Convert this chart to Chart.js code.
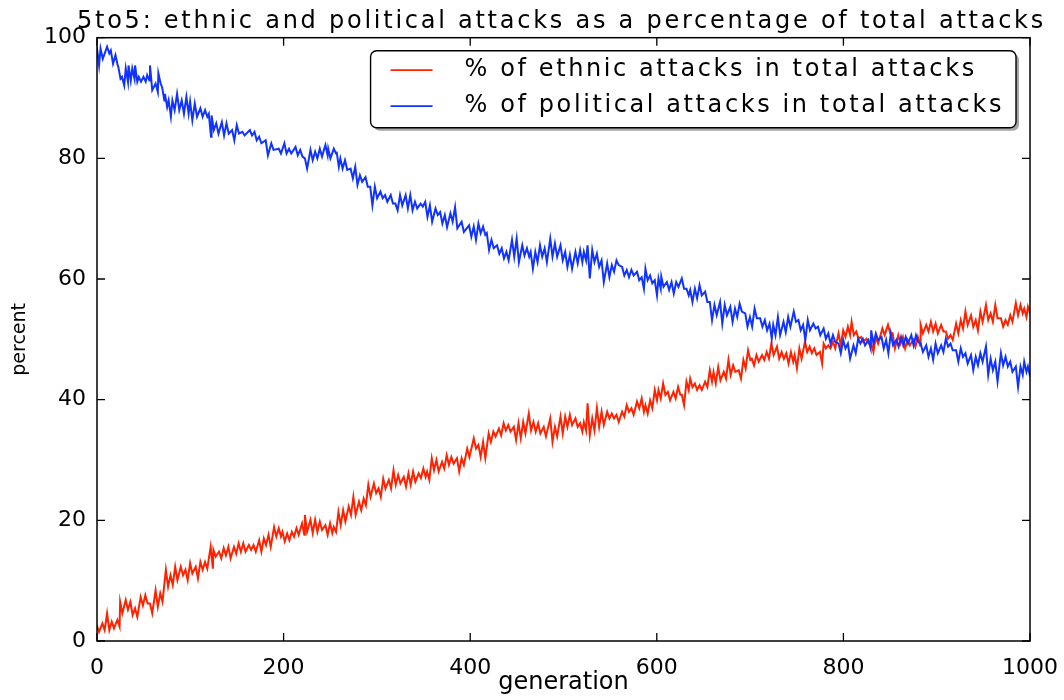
<!DOCTYPE html>
<html>
<head>
<meta charset="utf-8">
<script src="https://cdn.jsdelivr.net/npm/chart.js@4/dist/chart.umd.min.js"></script>
<style>
html,body{margin:0;padding:0;background:#ffffff;}
#wrap{width:1064px;height:700px;}
</style>
</head>
<body>
<div id="wrap"><canvas id="c" width="1064" height="700"></canvas></div>
<script>
// ---------- text ----------
const chartTitle = '5to5: ethnic and political attacks as a percentage of total attacks';
const xAxisTitle = 'generation';
const yAxisTitle = 'percent';
const ethnicLabel = '% of ethnic attacks in total attacks';
const politicalLabel = '% of political attacks in total attacks';
const xTickValues = [0, 200, 400, 600, 800, 1000];
const yTickValues = [0, 20, 40, 60, 80, 100];

// ---------- data: generation, upper and lower edge of the noisy trace ----------
const politicalGen = [
  1,5,12,16,21,24,28,32,35,39,
  42,46,51,55,58,64,67,71,74,78,
  82,87,92,97,101,106,112,117,121,124,
  129,135,140,146,151,157,165,170,175,182,
  188,196,202,207,214,219,224,230,235,240,
  246,249,255,258,262,267,273,278,283,289,
  294,299,305,310,316,321,326,332,337,342,
  348,353,358,364,369,374,380,385,392,400,
  405,410,415,419,424,430,435,440,446,451,
  457,462,466,471,476,481,487,492,498,503,
  508,514,519,523,527,532,537,542,548,553,
  558,564,569,574,580,585,589,594,599,603,
  606,612,617,622,628,633,637,642,647,653,
  658,663,669,674,680,685,690,696,701,706,
  712,717,722,726,731,737,742,748,753,758,
  763,769,774,780,785,790,796,801,806,812,
  817,822,828,831,836,842,847,852,858,863,
  868,874,879,884,890,895,900,906,911,916,
  922,927,932,938,943,948,954,959,964,970,
  975,980,986,991,995,999
];
const politicalHigh = [
  98.5,98.2,98.5,97.9,97.1,95.2,93.5,94.9,95.4,94.9,
  95.4,93.5,93.5,93.8,95.4,92.4,94.1,91.8,90.7,89.6,
  89.6,90.7,89.6,90.2,89.4,89.1,88.3,88.0,87.4,87.1,
  85.8,86.0,85.8,84.7,85.5,84.4,84.7,84.4,83.6,83.0,
  82.5,81.6,82.5,81.6,81.9,81.4,80.0,81.4,81.1,81.6,
  82.2,81.6,81.6,81.1,80.0,79.7,78.3,78.6,77.2,76.9,
  75.3,75.3,74.5,73.9,73.9,72.5,73.9,73.9,73.9,72.8,
  72.5,72.8,72.2,71.7,71.1,70.6,70.9,71.9,69.5,68.9,
  68.7,69.2,68.7,67.6,66.5,65.6,65.1,64.5,66.5,66.7,
  65.6,65.1,64.5,64.5,65.6,65.1,66.7,65.9,65.6,64.5,
  64.0,64.5,64.8,64.5,65.6,64.8,64.2,63.1,62.6,62.3,
  63.1,62.0,61.5,61.5,61.2,60.3,61.7,60.6,59.8,60.1,
  60.4,59.5,59.5,59.5,60.1,58.4,58.2,58.4,59.0,57.9,
  56.2,55.7,56.2,55.7,55.4,55.1,55.9,54.3,53.7,55.1,
  53.5,53.2,52.6,52.4,53.7,52.9,53.7,54.6,53.2,52.4,
  53.2,52.6,52.1,51.8,51.0,50.7,49.3,49.9,49.3,49.0,
  50.1,50.1,49.9,51.5,51.0,50.4,49.9,51.0,49.9,50.4,
  50.4,50.7,50.7,49.3,49.0,48.5,49.3,49.0,50.1,49.3,
  48.2,48.5,47.7,47.4,47.1,47.7,48.8,46.8,46.3,47.7,
  47.1,46.3,45.5,45.5,46.3,45.5
];
const politicalLow = [
  95.4,96.5,97.4,95.7,95.4,93.2,92.1,92.7,92.9,93.2,
  92.7,92.7,92.7,92.9,91.3,91.0,92.4,89.6,88.5,86.9,
  88.0,88.0,87.4,87.4,86.3,86.9,86.9,86.9,83.6,84.7,
  84.1,83.8,84.1,83.0,84.1,83.8,83.8,83.0,82.5,80.5,
  81.4,80.8,80.8,80.8,80.5,80.3,78.3,79.7,80.0,80.3,
  80.5,80.0,80.8,78.6,78.3,78.1,76.7,75.6,76.1,75.3,
  72.2,73.4,73.4,72.8,72.5,71.4,72.2,71.7,71.4,71.7,
  72.0,70.3,69.5,70.6,69.2,68.6,69.5,68.4,67.8,67.0,
  66.5,67.6,67.3,64.8,65.1,64.2,63.4,63.1,63.7,62.8,
  63.9,63.7,61.7,62.8,63.7,62.8,63.7,63.7,63.1,62.0,
  61.7,62.6,62.8,63.1,60.1,62.8,62.0,59.5,60.3,61.2,
  62.3,60.6,60.3,60.6,59.8,58.4,59.8,59.3,57.3,58.4,
  58.7,58.2,57.6,58.7,58.4,57.3,56.2,56.8,57.3,56.2,
  53.2,54.0,52.6,54.0,52.9,53.7,54.6,52.1,52.1,53.5,
  52.1,51.5,50.1,50.7,50.7,51.2,52.1,52.9,51.5,49.9,
  51.5,51.8,50.7,50.1,49.3,49.6,47.7,48.5,46.8,47.7,
  49.3,49.0,48.5,49.3,49.9,48.5,47.7,49.0,48.8,49.0,
  49.3,49.0,49.6,47.9,47.1,46.6,47.7,47.9,48.8,48.2,
  46.3,47.1,46.0,44.9,45.7,46.3,44.1,44.9,43.0,45.7,
  45.5,44.6,42.1,44.1,44.6,43.8
];

const ethnicGen = [
  1,7,12,17,23,26,32,37,42,48,
  53,58,64,69,75,80,85,91,96,101,
  107,112,117,123,126,132,137,142,148,153,
  158,164,169,175,180,185,191,196,200,205,
  210,215,221,224,230,235,240,246,251,255,
  260,265,271,276,282,287,292,298,303,308,
  314,319,324,330,335,340,346,351,355,360,
  365,371,376,381,387,392,398,405,410,415,
  421,426,432,437,442,448,453,458,464,469,
  474,480,487,492,498,503,508,514,519,523,
  527,532,537,542,548,553,558,564,569,574,
  580,585,589,594,599,603,608,613,619,624,
  628,633,637,642,647,653,658,662,667,673,
  678,683,689,694,699,703,708,714,719,724,
  730,735,740,745,749,754,760,765,770,776,
  780,785,790,796,801,806,810,815,820,826,
  831,836,843,849,854,860,865,870,876,881,
  884,890,895,900,906,911,916,922,927,932,
  938,943,948,954,959,964,970,975,980,986,
  991,995,999
];
const ethnicHigh = [
  2.6,2.9,4.6,3.2,3.5,6.5,6.8,6.5,5.4,7.3,
  7.6,6.2,8.4,7.9,11.8,10.9,12.3,12.3,11.8,12.9,
  12.3,13.1,13.1,15.6,15.1,14.8,15.4,15.6,15.6,16.2,
  16.2,15.9,15.9,16.7,17.0,17.6,18.9,18.7,18.1,17.8,
  18.1,18.7,19.5,20.9,20.1,20.1,19.8,19.2,19.5,18.9,
  21.4,21.7,22.3,23.9,23.1,23.6,25.9,26.1,25.3,26.9,
  26.7,28.3,27.5,27.2,27.8,28.1,27.8,28.6,28.1,30.3,
  30.0,29.7,30.8,30.5,30.3,30.3,31.9,33.6,32.5,33.0,
  34.4,34.7,35.2,36.1,35.8,35.5,36.1,36.3,37.7,36.3,
  36.1,35.5,36.9,35.5,37.2,37.2,37.5,36.9,36.1,36.3,
  39.4,36.9,38.6,38.0,38.0,37.7,37.5,38.0,39.1,38.6,
  39.7,40.2,39.1,39.9,41.6,41.6,42.7,41.3,41.3,42.1,
  40.8,43.0,43.5,42.7,42.4,43.0,44.9,44.6,45.4,44.6,
  46.6,45.7,44.9,46.6,48.2,46.8,47.4,47.4,47.9,49.3,
  48.8,47.9,47.7,47.9,47.4,48.5,49.6,48.8,48.5,47.9,
  49.3,49.0,49.6,51.0,51.5,52.1,52.9,51.3,50.4,50.1,
  49.3,50.4,51.8,52.4,51.0,50.7,50.4,49.9,49.9,50.4,
  52.4,52.4,52.9,52.6,52.4,51.3,50.7,52.6,53.2,54.6,
  54.0,53.2,54.6,55.7,54.3,55.7,53.5,53.2,54.0,56.0,
  55.7,55.1,55.4
];
const ethnicLow = [
  1.5,1.8,1.8,2.1,2.4,4.6,5.2,4.3,4.0,5.9,
  6.2,4.6,5.7,6.5,9.0,9.3,10.1,10.9,10.1,11.2,
  10.4,11.8,12.0,12.0,14.0,13.7,14.2,13.7,14.5,14.8,
  14.8,15.1,14.8,14.8,15.9,15.6,17.3,17.3,16.5,16.7,
  17.3,17.6,17.6,18.1,17.9,18.1,18.4,17.6,17.9,18.1,
  19.2,19.8,20.9,20.9,21.7,22.5,23.9,24.5,23.9,25.3,
  25.3,25.9,26.1,25.6,25.9,26.4,27.0,27.2,26.7,28.3,
  28.1,28.6,29.2,29.4,28.1,29.2,30.5,31.9,30.5,30.3,
  33.0,33.9,34.1,34.9,34.7,33.3,33.6,34.4,34.9,34.7,
  34.4,33.9,33.0,33.9,34.4,35.5,35.8,35.5,34.7,34.9,
  34.1,34.9,35.5,35.8,36.9,36.9,36.3,37.2,38.0,37.5,
  38.6,38.0,37.7,38.6,39.9,40.2,40.8,39.9,40.2,40.8,
  39.1,41.6,42.1,41.6,41.6,42.1,43.0,42.7,43.2,43.5,
  44.1,44.6,43.5,45.2,46.6,45.7,46.3,46.6,46.8,47.4,
  46.8,46.8,46.0,46.3,45.2,46.8,47.9,47.7,47.4,46.0,
  48.5,48.5,48.5,49.0,50.4,50.7,50.7,50.1,49.6,49.3,
  47.9,49.3,50.7,51.0,48.5,49.3,48.5,49.0,48.8,49.0,
  51.0,51.3,51.3,51.0,51.3,50.1,49.9,51.0,51.8,52.4,
  52.1,51.5,52.9,53.2,52.9,53.5,52.1,52.4,52.9,54.0,
  54.3,53.7,54.3
];

// ---------- build library points (upper then lower edge at each reading) ----------
function tracePoints(gen, high, low) {
  const n = Math.min(gen.length, high.length, low.length);
  const pts = [];
  for (let i = 0; i < n; i++) {
    pts.push({x: gen[i] - 1.2, y: high[i]});
    pts.push({x: gen[i] + 1.2, y: low[i]});
  }
  return pts;
}

const FONT = '"DejaVu Sans", "Noto Sans", sans-serif';

function roundRectPath(ctx, x, y, w, h, r) {
  ctx.beginPath();
  ctx.moveTo(x + r, y);
  ctx.lineTo(x + w - r, y);
  ctx.arcTo(x + w, y, x + w, y + r, r);
  ctx.lineTo(x + w, y + h - r);
  ctx.arcTo(x + w, y + h, x + w - r, y + h, r);
  ctx.lineTo(x + r, y + h);
  ctx.arcTo(x, y + h, x, y + h - r, r);
  ctx.lineTo(x, y + r);
  ctx.arcTo(x, y, x + r, y, r);
  ctx.closePath();
}

const framePlugin = {
  id: 'mplFrame',
  afterDatasetsDraw(chart) {
    const ctx = chart.ctx;
    const a = chart.chartArea;
    const xs = chart.scales.x, ys = chart.scales.y;
    ctx.save();
    // inward ticks on all four sides
    ctx.strokeStyle = '#000';
    ctx.lineWidth = 1.3;
    const tl = 8;
    ctx.beginPath();
    xs.ticks.forEach(t => {
      const px = xs.getPixelForValue(t.value);
      ctx.moveTo(px, a.bottom); ctx.lineTo(px, a.bottom - tl);
      ctx.moveTo(px, a.top); ctx.lineTo(px, a.top + tl);
    });
    ys.ticks.forEach(t => {
      const py = ys.getPixelForValue(t.value);
      ctx.moveTo(a.left, py); ctx.lineTo(a.left + tl, py);
      ctx.moveTo(a.right, py); ctx.lineTo(a.right - tl, py);
    });
    ctx.stroke();
    // frame
    ctx.lineWidth = 1.5;
    ctx.strokeRect(a.left, a.top, a.right - a.left, a.bottom - a.top);

    // legend box
    ctx.font = '24px ' + FONT;
    ctx.letterSpacing = '2.6px';
    const items = [chart.data.datasets[0], chart.data.datasets[1]];
    const textW = Math.max(...items.map(d => ctx.measureText(d.label).width));
    const w = 94 + textW + 12, h = 77;
    const right = a.right - 14, top = a.top + 13;
    const left = right - w;
    roundRectPath(ctx, left + 3, top + 3, w, h, 6);
    ctx.fillStyle = 'rgba(0,0,0,0.35)';
    ctx.fill();
    roundRectPath(ctx, left, top, w, h, 6);
    ctx.fillStyle = '#ffffff';
    ctx.fill();
    ctx.lineWidth = 1.4;
    ctx.strokeStyle = '#000';
    ctx.stroke();
    items.forEach((d, i) => {
      const cy = top + 19.5 + i * 36;
      ctx.beginPath();
      ctx.strokeStyle = d.borderColor;
      ctx.lineWidth = 1.8;
      ctx.moveTo(left + 20, cy);
      ctx.lineTo(left + 62, cy);
      ctx.stroke();
      ctx.fillStyle = '#000';
      ctx.textAlign = 'left';
      ctx.textBaseline = 'middle';
      ctx.fillText(d.label, left + 94, cy);
    });
    ctx.restore();
  },
  afterDraw(chart) {
    // chart title, centred over the plotting area
    const ctx = chart.ctx;
    const a = chart.chartArea;
    ctx.save();
    ctx.font = '24px ' + FONT;
    ctx.letterSpacing = '2.75px';
    ctx.fillStyle = '#000';
    ctx.textAlign = 'center';
    ctx.textBaseline = 'alphabetic';
    ctx.fillText(chartTitle, (a.left + a.right) / 2 - 2, a.top - 10);
    ctx.restore();
  }
};

new Chart(document.getElementById('c'), {
  type: 'line',
  data: {
    datasets: [
      {
        label: ethnicLabel,
        data: tracePoints(ethnicGen, ethnicHigh, ethnicLow),
        borderColor: '#ff2200',
        backgroundColor: '#ff2200',
        borderWidth: 2,
        pointRadius: 0,
        tension: 0,
        fill: false,
        order: 1
      },
      {
        label: politicalLabel,
        data: tracePoints(politicalGen, politicalHigh, politicalLow),
        borderColor: '#1133ff',
        backgroundColor: '#1133ff',
        borderWidth: 2,
        pointRadius: 0,
        tension: 0,
        fill: false,
        order: 0
      }
    ]
  },
  options: {
    responsive: false,
    devicePixelRatio: 1,
    animation: false,
    events: [],
    layout: { padding: { left: 0, right: 33, top: 37.7, bottom: 0 } },
    plugins: {
      legend: { display: false },
      tooltip: { enabled: false },
      title: { display: false }
    },
    scales: {
      x: {
        type: 'linear',
        min: 0,
        max: 1000,
        afterBuildTicks: s => { s.ticks = xTickValues.map(v => ({ value: v })); },
        afterFit: s => { s.height = 59; },
        grid: { display: false },
        border: { display: false },
        ticks: {
          color: '#000',
          font: { family: FONT, size: 22 },
          padding: 6,
          maxRotation: 0,
          callback: v => String(v)
        },
        title: {
          display: true,
          text: xAxisTitle,
          color: '#000',
          font: { family: FONT, size: 24, lineHeight: 1 },
          padding: { top: 0, bottom: 5 }
        }
      },
      y: {
        type: 'linear',
        min: 0,
        max: 100,
        afterBuildTicks: s => { s.ticks = yTickValues.map(v => ({ value: v })); },
        afterFit: s => { s.width = 97; },
        grid: { display: false },
        border: { display: false },
        ticks: {
          color: '#000',
          font: { family: FONT, size: 22 },
          padding: 3,
          callback: v => String(v)
        },
        title: {
          display: true,
          text: yAxisTitle,
          color: '#000',
          font: { family: FONT, size: 19, lineHeight: 1 },
          padding: { top: 11, bottom: 0 }
        }
      }
    }
  },
  plugins: [framePlugin]
});
</script>
</body>
</html>
